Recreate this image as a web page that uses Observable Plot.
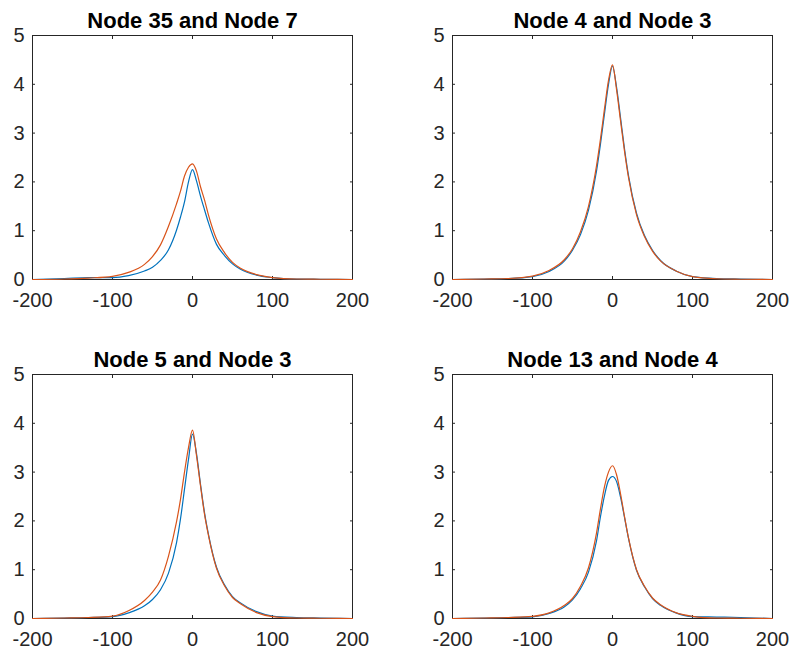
<!DOCTYPE html>
<html>
<head>
<meta charset="utf-8">
<script src="https://cdn.jsdelivr.net/npm/d3@7"></script>
<script src="https://cdn.jsdelivr.net/npm/@observablehq/plot@0.6"></script>
<style>
  html, body { margin: 0; padding: 0; background: white; }
  #chart { width: 790px; height: 655px; }
</style>
</head>
<body>
<div id="chart"></div>
<script>
// Sample positions (x) shared by all curves
const xs = [-200, -160, -130, -100, -80, -60, -50, -40, -30, -20, -15, -10, -5, 0, 5, 10, 15, 20, 30, 40, 50, 60, 80, 100, 130, 160, 200];

// Panel titles (row-major order)
const titles = ["Node 35 and Node 7", "Node 4 and Node 3", "Node 5 and Node 3", "Node 13 and Node 4"];

// Series values (blue = first, orange = second)
const blue35_7   = [0, 0.02, 0.04, 0.04, 0.08, 0.175, 0.25, 0.39, 0.61, 1.01, 1.28, 1.59, 2.00, 2.25, 2.02, 1.71, 1.43, 1.16, 0.72, 0.49, 0.32, 0.21, 0.09, 0.04, 0.01, 0.005, 0];
const orange35_7 = [0, 0.01, 0.03, 0.065, 0.145, 0.31, 0.47, 0.71, 1.09, 1.55, 1.81, 2.12, 2.30, 2.37, 2.22, 1.90, 1.63, 1.32, 0.83, 0.55, 0.35, 0.23, 0.10, 0.04, 0.01, 0.005, 0];

const blue4_3    = [0, 0.01, 0.02, 0.06, 0.16, 0.38, 0.60, 0.92, 1.42, 2.22, 2.78, 3.40, 4.00, 4.37, 3.95, 3.32, 2.68, 2.13, 1.36, 0.90, 0.60, 0.39, 0.17, 0.06, 0.02, 0.01, 0];
const orange4_3  = [0, 0.01, 0.02, 0.07, 0.18, 0.41, 0.63, 0.98, 1.50, 2.33, 2.88, 3.50, 4.08, 4.40, 3.90, 3.26, 2.63, 2.09, 1.33, 0.88, 0.58, 0.38, 0.17, 0.06, 0.015, 0.005, 0];

const blue5_3    = [0, 0.01, 0.02, 0.04, 0.115, 0.26, 0.39, 0.59, 0.93, 1.55, 2.04, 2.65, 3.26, 3.78, 3.38, 2.75, 2.17, 1.72, 1.05, 0.69, 0.45, 0.32, 0.14, 0.05, 0.02, 0.01, 0];
const orange5_3  = [0, 0.01, 0.02, 0.05, 0.16, 0.37, 0.54, 0.79, 1.28, 1.98, 2.44, 3.00, 3.50, 3.86, 3.34, 2.72, 2.14, 1.70, 1.03, 0.67, 0.43, 0.30, 0.12, 0.04, 0.01, 0.005, 0];

const blue13_4   = [0, 0.01, 0.02, 0.035, 0.10, 0.24, 0.38, 0.61, 0.95, 1.59, 2.09, 2.52, 2.83, 2.91, 2.81, 2.49, 2.07, 1.64, 0.99, 0.65, 0.41, 0.27, 0.11, 0.04, 0.03, 0.02, 0];
const orange13_4 = [0, 0.01, 0.02, 0.045, 0.11, 0.27, 0.41, 0.66, 1.04, 1.75, 2.25, 2.70, 3.00, 3.13, 2.95, 2.56, 2.09, 1.65, 1.00, 0.66, 0.42, 0.28, 0.115, 0.045, 0.01, 0.005, 0];

// Tick labels
const xTicks = [-200, -100, 0, 100, 200];
const yTicks = [0, 1, 2, 3, 4, 5];

// Series names and colours
const seriesNames = ["first", "second"];
const seriesColors = ["#0072BD", "#D95319"];

const panelSeries = [
  [blue35_7, orange35_7],
  [blue4_3, orange4_3],
  [blue5_3, orange5_3],
  [blue13_4, orange13_4]
];

const rows = [];
panelSeries.forEach((pair, i) => {
  pair.forEach((vals, s) => {
    xs.forEach((x, j) => {
      rows.push({col: i % 2, row: Math.floor(i / 2), series: seriesNames[s], x, y: vals[j]});
    });
  });
});
const titleData = titles.map((t, i) => ({col: i % 2, row: Math.floor(i / 2), title: t}));

const axisColor = "#262626";

const chart = Plot.plot({
  width: 790,
  height: 655,
  marginLeft: 32,
  marginRight: 18,
  marginTop: 34,
  marginBottom: 36,
  style: {fontFamily: "'Liberation Sans', Arial, Helvetica, sans-serif", fontSize: "20px", color: axisColor, background: "white"},
  x: {domain: [-200, 200]},
  y: {domain: [0, 5]},
  fx: {domain: [0, 1], paddingInner: 0.2381, paddingOuter: 0, axis: null},
  fy: {domain: [0, 1], paddingInner: 0.2794, paddingOuter: 0, axis: null},
  color: {domain: seriesNames, range: seriesColors},
  marks: [
    Plot.frame({stroke: axisColor, strokeWidth: 1}),
    Plot.axisX(xTicks, {anchor: "bottom", facetAnchor: null, tickSize: 0, tickPadding: 13, tickFormat: d => String(d), label: null, fill: axisColor, fontSize: 20}),
    Plot.axisX(xTicks, {anchor: "bottom", facetAnchor: null, tickSize: -3, fill: "none", label: null, stroke: axisColor}),
    Plot.axisX(xTicks, {anchor: "top", facetAnchor: null, tickSize: -3, fill: "none", label: null, stroke: axisColor}),
    Plot.axisY(yTicks, {anchor: "left", facetAnchor: null, tickSize: 0, tickPadding: 8, tickFormat: d => String(d), label: null, fill: axisColor, fontSize: 20}),
    Plot.axisY(yTicks, {anchor: "left", facetAnchor: null, tickSize: -3, fill: "none", label: null, stroke: axisColor}),
    Plot.axisY(yTicks, {anchor: "right", facetAnchor: null, tickSize: -3, fill: "none", label: null, stroke: axisColor}),
    Plot.line(rows, {x: "x", y: "y", z: "series", stroke: "series", fx: "col", fy: "row", curve: "monotone-x", strokeWidth: 1.2}),
    Plot.text(titleData, {fx: "col", fy: "row", text: "title", frameAnchor: "top", lineAnchor: "bottom", dy: -8, fontSize: 22, fontWeight: "bold", fill: "black"})
  ]
});
document.getElementById("chart").appendChild(chart);
</script>
</body>
</html>
